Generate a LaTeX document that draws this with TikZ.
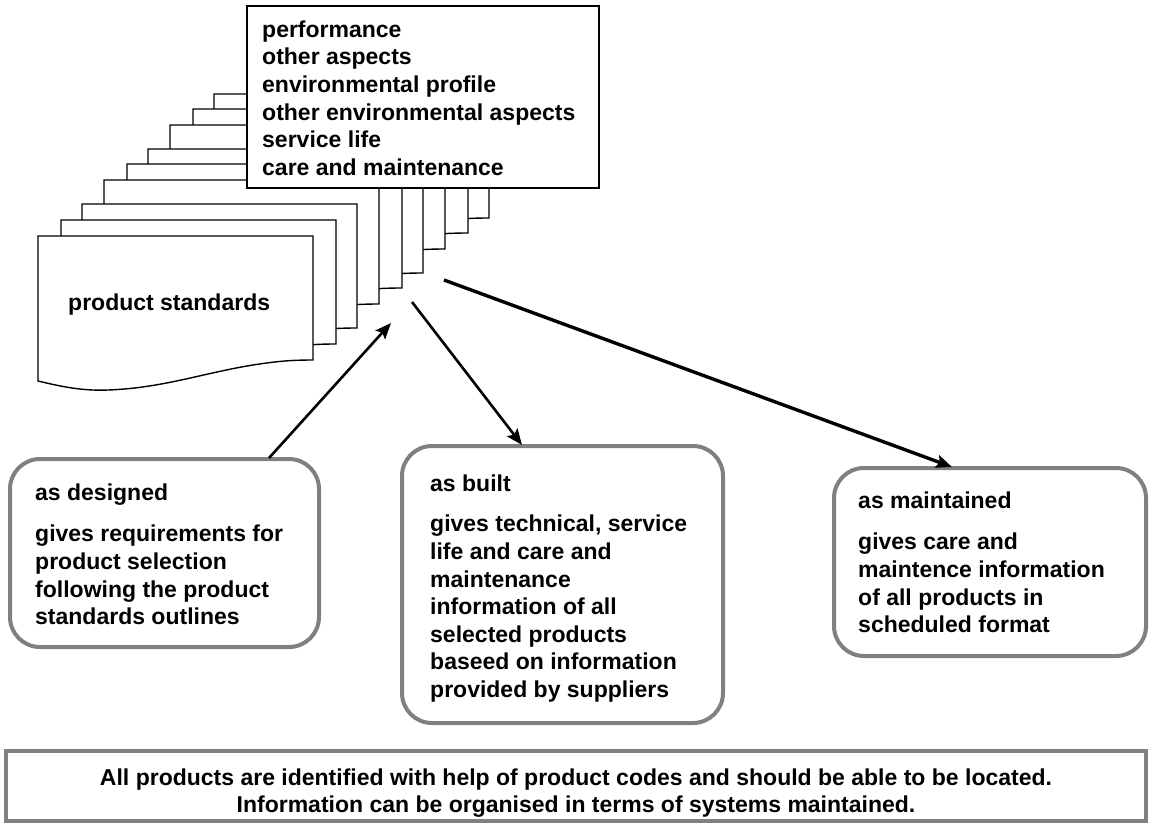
\documentclass[tikz,border=0pt]{standalone}
\usepackage{fontspec}
\setmainfont{Liberation Sans}
\usetikzlibrary{arrows.meta}
\definecolor{boxgray}{RGB}{128,128,128}
\begin{document}
\begin{tikzpicture}[x=1pt,y=-1pt,
  txt/.style={font=\fontsize{23}{27.6}\selectfont\bfseries, inner sep=0pt, align=left},
  gbox/.style={draw=boxgray, line width=4pt, rounded corners=30pt, fill=white, inner sep=0pt},
  sqbox/.style={draw=boxgray, line width=3.5pt, fill=white, inner sep=0pt},
  topbox/.style={draw=black, line width=1.4pt, fill=white, inner sep=0pt},
  page/.style={draw=black, line width=1.4pt, fill=white},
  arr/.style={-{Stealth[length=16pt,width=13pt,inset=3pt]}, line width=2.6pt},
  arrthick/.style={-{Stealth[length=16pt,width=13pt,inset=3pt]}, line width=3.4pt}
]
\useasboundingbox (0,0) rectangle (1150,825);

% stack of product standard pages, back to front
\foreach \dx/\dy in {176/-142,155/-127,132/-111,110/-87,89/-72,66/-56,44/-32,23/-16,0/0}{
  \draw[page, shift={(38+\dx,236+\dy)}]
    (0,0) -- (275,0) -- (275,124)
    .. controls (255,124) and (240,125) .. (215,129)
    .. controls (165,137) and (125,152) .. (70,154)
    .. controls (45,155) and (25,151) .. (0,145) -- cycle;
}

\node[txt, anchor=base west] (ps) at (68,310) {product standards};

% top list box
\node[topbox, minimum width=352pt, minimum height=182pt] (list) at (423,97) {};
\node[txt, anchor=north west] (listtxt) at (262,17.7) {\strut performance\\other aspects\\environmental profile\\other environmental aspects\\service life\\care and maintenance};

% lower boxes
\node[gbox, minimum width=309pt, minimum height=188pt] (designed) at (164.5,553) {};
\node[gbox, minimum width=321pt, minimum height=277pt] (built) at (562.5,584.5) {};
\node[gbox, minimum width=312pt, minimum height=188pt] (maint) at (990,562) {};
\node[sqbox, minimum width=1140pt, minimum height=70pt] (note) at (576,786) {};

\node[txt, anchor=north west] (designedtxt) at (35,480.7) {\strut as designed\\[14pt]gives requirements for\\product selection\\following the product\\standards outlines};
\node[txt, anchor=north west] (builttxt) at (430,471.7) {\strut as built\\[13pt]gives technical, service\\life and care and\\maintenance\\information of all\\selected products\\baseed on information\\provided by suppliers};
\node[txt, anchor=north west] (mainttxt) at (858,488.7) {\strut as maintained\\[14pt]gives care and\\maintence information\\of all products in\\scheduled format};
\node[txt, align=center, anchor=north] (notetxt) at (576,765.7) {\strut All products are identified with help of product codes and should be able to be located.\\Information can be organised in terms of systems maintained.};

% connectors
\coordinate (inpt) at (391,323);
\coordinate (out1) at (412,302);
\coordinate (out2) at (444,280);
\draw[arr] ([xshift=104.5pt,yshift=-1pt]designed.north) -- (inpt);
\draw[arr] (out1) -- ([xshift=-40.5pt,yshift=-1pt]built.north);
\draw[arrthick] (out2) -- ([xshift=-38pt,yshift=-1pt]maint.north);
\end{tikzpicture}
\end{document}
